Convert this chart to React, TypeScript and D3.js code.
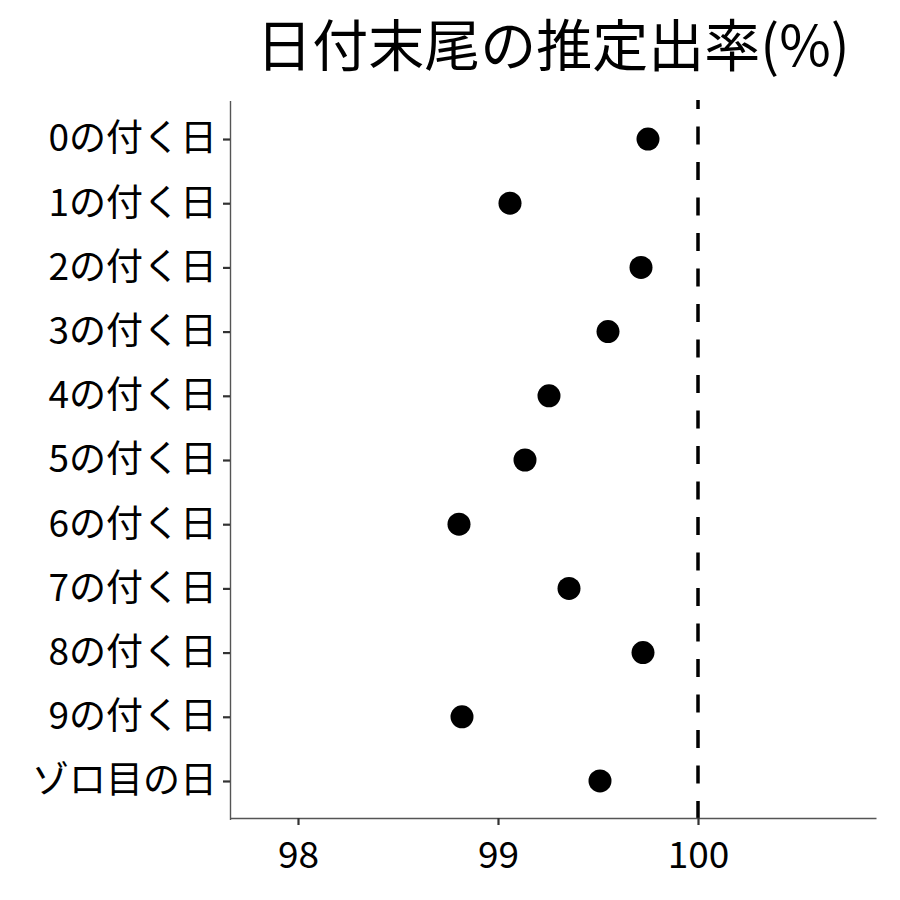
import React, { useEffect, useRef } from "react";
import * as d3 from "d3";

const categories = [
  "0の付く日",
  "1の付く日",
  "2の付く日",
  "3の付く日",
  "4の付く日",
  "5の付く日",
  "6の付く日",
  "7の付く日",
  "8の付く日",
  "9の付く日",
  "ゾロ目の日",
];
const rates = [99.75, 99.06, 99.715, 99.55, 99.255, 99.135, 98.805, 99.355, 99.725, 98.82, 99.51];
const xTicks = [98, 99, 100];
const refValue = 100;
const title = "日付末尾の推定出率(%)";

const FONT = "'Noto Sans CJK JP', 'Noto Sans', sans-serif";

const App = () => {
  const ref = useRef<SVGSVGElement>(null);

  useEffect(() => {
    const W = 900;
    const H = 900;
    const margin = { top: 100, right: 24, bottom: 82, left: 230 };
    const width = W - margin.left - margin.right;
    const height = H - margin.top - margin.bottom;

    const root = d3.select(ref.current);
    root.selectAll("*").remove();
    root.attr("width", W).attr("height", H);

    const svg = root.append("g").attr("transform", `translate(${margin.left},${margin.top})`);

    const x = d3.scaleLinear().domain([97.66, 100.89]).range([0, width]);
    // ggplot-like discrete expansion
    const y = d3.scalePoint().domain(categories).range([0.5, height + 1.5]).padding(0.6);

    // reference line
    svg.append("line")
      .attr("x1", x(refValue))
      .attr("x2", x(refValue))
      .attr("y1", 0)
      .attr("y2", height)
      .attr("stroke", "#000")
      .attr("stroke-width", 3.5)
      .attr("stroke-dasharray", "18,17.5")
      .attr("stroke-dashoffset", 9);

    // points
    svg.selectAll("circle.pt")
      .data(categories)
      .enter()
      .append("circle")
      .attr("class", "pt")
      .attr("cx", (d, i) => x(rates[i]))
      .attr("cy", d => y(d)!)
      .attr("r", 11.5)
      .attr("fill", "#000");

    // x axis
    const xAxis = svg.append("g")
      .attr("transform", `translate(0,${height})`)
      .call(d3.axisBottom(x).tickValues(xTicks).tickSize(7).tickSizeOuter(0).tickPadding(17).tickFormat(d3.format("d")));
    xAxis.select(".domain").attr("stroke", "#555").attr("stroke-width", 1.4);
    xAxis.selectAll(".tick line").attr("stroke", "#333").attr("stroke-width", 2.2);
    xAxis.selectAll(".tick text")
      .attr("fill", "#000")
      .style("font-family", FONT)
      .style("font-size", "37px");

    // y axis
    const yAxis = svg.append("g")
      .call(d3.axisLeft(y).tickSize(7).tickSizeOuter(0).tickPadding(6));
    yAxis.select(".domain").attr("stroke", "#555").attr("stroke-width", 1.4);
    yAxis.selectAll(".tick line").attr("stroke", "#333").attr("stroke-width", 2.2);
    yAxis.selectAll(".tick text")
      .attr("fill", "#000")
      .style("font-family", FONT)
      .style("font-size", "37px");

    // title
    svg.append("text")
      .attr("x", width / 2)
      .attr("y", -34)
      .attr("text-anchor", "middle")
      .attr("fill", "#000")
      .style("font-family", FONT)
      .style("font-size", "56px")
      .text(title);
  }, []);

  return (
    <div style={{ position: "absolute", left: 0, top: 0 }}>
      <svg ref={ref}></svg>
    </div>
  );
};

export default App;
